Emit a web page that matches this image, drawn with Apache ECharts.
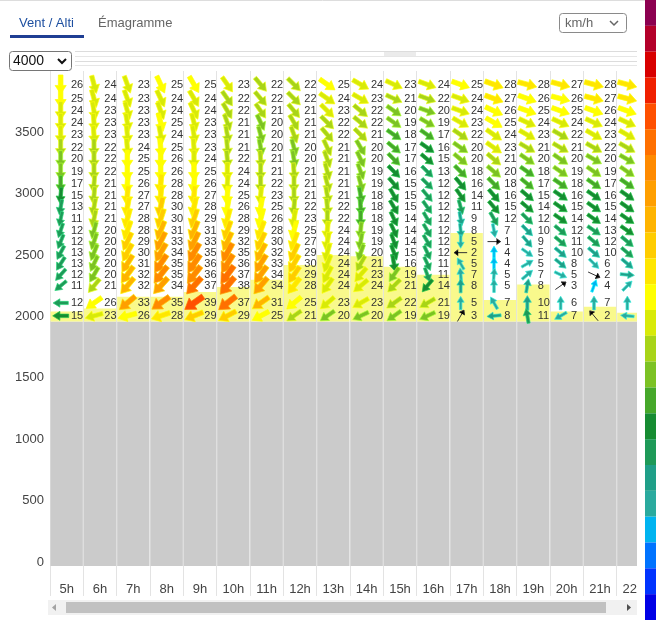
<!DOCTYPE html>
<html lang="fr">
<head>
<meta charset="UTF-8">
<title>Vent / Alti</title>
<script src="https://cdn.jsdelivr.net/npm/echarts@6/dist/echarts.min.js"></script>
<style>
  html, body { margin: 0; padding: 0; background: #fff; }
  #chart { width: 656px; height: 620px; }
</style>
</head>
<body>
<div id="chart"></div>
<script>
// heures (axe x)
var hours = ['5h', '6h', '7h', '8h', '9h', '10h', '11h', '12h', '13h', '14h', '15h', '16h', '17h', '18h', '19h', '20h', '21h', '22h'];
// altitude de chaque ligne de fleches (m)
var levels = [3890, 3775, 3675, 3580, 3480, 3375, 3280, 3180, 3080, 2985, 2890, 2795, 2700, 2610, 2520, 2430, 2340, 2250, 2110, 2005];
// relief (m) et sommet de la couche jaune (m)
var ground = 1960;
var layerTop = [2040, 2065, 2160, 2160, 2200, 2240, 2300, 2420, 2500, 2490, 2405, 2340, 2680, 2135, 2260, 2040, 2080, 2030];
var yTicks = [0, 500, 1000, 1500, 2000, 2500, 3000, 3500];

// vitesse (km/h), du haut vers le bas
var v05 = [26,25,24,24,23,22,20,19,17,15,13,11,12,12,13,13,12,11,12,15];
var v06 = [24,24,23,23,23,22,22,22,21,21,21,21,20,20,20,20,20,21,26,23];
var v07 = [23,23,23,23,23,24,25,25,26,27,27,28,28,29,30,31,32,32,33,26];
var v08 = [25,24,24,25,24,25,26,26,28,28,30,30,31,33,34,35,35,34,35,28];
var v09 = [25,24,24,23,23,23,24,25,26,27,28,29,31,33,35,36,36,37,39,29];
var v10 = [23,22,22,21,21,21,22,24,24,25,26,28,29,32,35,36,37,38,37,29];
var v11 = [22,22,21,20,20,20,21,21,22,23,25,26,28,30,32,33,34,34,31,25];
var v12 = [22,22,21,21,21,20,20,21,21,21,22,23,25,27,29,30,29,28,25,21];
var v13 = [25,24,23,22,22,21,21,21,21,21,22,22,24,24,24,24,24,24,23,20];
var v14 = [24,23,22,22,21,20,20,19,19,18,18,18,19,19,20,21,23,24,23,20];
var v15 = [23,21,20,19,18,17,17,16,15,15,15,14,14,14,15,16,19,21,22,19];
var v16 = [24,22,20,19,17,16,15,13,12,12,12,12,12,12,12,11,11,14,21,19];
var v17 = [25,24,24,23,22,20,20,18,16,14,11,9,8,5,2,5,7,8,5,3];
var v18 = [28,27,26,25,24,23,21,20,18,16,15,12,7,1,4,4,5,5,7,8];
var v19 = [28,26,25,24,23,21,20,18,17,15,14,12,10,9,5,5,7,8,10,11];
var v20 = [27,26,25,24,22,21,20,19,18,16,15,14,12,11,10,8,5,3,6,7];
var v21 = [28,27,26,24,23,22,20,19,17,16,15,14,13,12,10,6,2,4,7,2];
var v22 = [28,27,26,24,23,22,20,19,18,16,16,15,14,13,12,10,8,5,7,6];

// direction d'ou vient le vent (degres)
var d05 = [0,0,0,0,0,0,0,0,0,5,10,12,18,22,28,33,42,50,90,90];
var d06 = [345,345,350,355,355,0,0,0,5,5,10,12,15,18,22,25,30,40,55,75];
var d07 = [340,340,345,350,355,355,0,0,5,5,10,15,20,25,28,32,36,40,50,75];
var d08 = [335,335,340,345,350,355,0,0,5,5,12,18,22,26,30,34,38,42,55,72];
var d09 = [330,330,335,345,350,355,0,0,5,5,12,18,22,26,30,34,38,42,55,68];
var d10 = [325,325,330,340,350,355,355,0,5,5,10,15,20,25,28,32,36,40,52,62];
var d11 = [320,320,325,335,345,350,355,0,0,5,10,15,20,25,28,32,36,40,55,62];
var d12 = [315,315,320,330,340,345,350,355,0,0,5,10,15,20,25,30,34,38,50,55];
var d13 = [305,305,315,315,320,335,340,345,345,350,355,0,5,10,15,22,28,35,50,55];
var d14 = [300,300,310,310,315,330,335,340,345,350,355,0,5,10,20,30,40,50,60,65];
var d15 = [295,295,305,305,305,310,315,315,320,330,330,335,335,340,340,350,35,45,55,55];
var d16 = [290,290,290,300,305,305,310,315,315,320,325,330,330,330,335,335,340,40,60,65];
var d17 = [290,290,290,300,305,305,310,315,320,325,345,350,355,0,90,150,175,180,180,210];
var d18 = [290,290,295,300,305,305,310,310,315,320,320,330,350,270,180,180,185,180,150,85];
var d19 = [285,290,290,295,300,300,305,305,310,310,310,315,315,320,305,240,230,190,180,170];
var d20 = [285,285,290,295,300,300,305,305,305,305,305,305,310,310,310,310,295,235,180,60];
var d21 = [285,285,290,295,300,300,300,305,305,305,305,305,305,310,310,315,295,200,180,140];
var d22 = [285,285,290,295,300,300,300,305,305,305,305,305,305,310,310,310,275,225,180,95];

// echelle de couleur (km/h)
var speedBreaks = [0, 1, 2, 3, 5, 8, 11, 14, 17, 19, 21, 23, 25, 27, 29, 31, 33, 35, 37, 39, 42, 46, 50, 60, 200];
var speedColors = ['#0000e6', '#0033ff', '#0073ff', '#00b4f0', '#2aaa9e', '#1f9f88', '#1e9a58', '#168c32',
    '#46a82a', '#7cc224', '#a8d418', '#d8ea08', '#ffff00', '#ffe600', '#ffcc00', '#ffb400',
    '#ff9f00', '#ff8a00', '#ff7000', '#ff5000', '#f02000', '#d80000', '#b4002a', '#8c0050'];

var speedCols = [v05, v06, v07, v08, v09, v10, v11, v12, v13, v14, v15, v16, v17, v18, v19, v20, v21, v22];
var dirCols = [d05, d06, d07, d08, d09, d10, d11, d12, d13, d14, d15, d16, d17, d18, d19, d20, d21, d22];

var font = '"Liberation Sans", Arial, sans-serif';

var windData = [];
speedCols.forEach(function (col, i) {
    col.forEach(function (v, j) {
        windData.push([i, levels[j], v, dirCols[i][j]]);
    });
});

var pieces = speedColors.map(function (c, k) {
    return { gte: speedBreaks[k], lt: speedBreaks[k + 1], color: c };
});

var chart = echarts.init(document.getElementById('chart'));

function renderGround(params, api) {
    var p = api.coord([api.value(0), api.value(1)]);
    var cw = api.size([1, 0])[0];
    var bottom = params.coordSys.y + params.coordSys.height;
    return {
        type: 'rect',
        shape: { x: p[0] - cw / 2 + 0.5, y: p[1], width: cw - 1, height: bottom - p[1] },
        style: { fill: '#cbcbcb' }
    };
}

function renderLayer(params, api) {
    var top = api.coord([api.value(0), api.value(1)]);
    var base = api.coord([api.value(0), ground]);
    var cw = api.size([1, 0])[0];
    return {
        type: 'rect',
        shape: { x: top[0] - cw / 2 + 0.5, y: top[1], width: cw - 1, height: base[1] - top[1] },
        style: { fill: '#f9f98c' }
    };
}

function renderWind(params, api) {
    var p = api.coord([api.value(0), api.value(1)]);
    var spd = api.value(2);
    var from = api.value(3);
    var cw = api.size([1, 0])[0];
    var ax = p[0] - cw * 0.18, ay = p[1];
    var h = (from + 180) * Math.PI / 180;
    var ux = Math.sin(h), uy = -Math.cos(h), nx = Math.cos(h), ny = Math.sin(h);
    function pt(a, b) { return [ax + ux * a + nx * b, ay + uy * a + ny * b]; }
    var children = [];
    if (spd <= 3) {
        var l = 13;
        children.push({ type: 'polyline', shape: { points: [pt(-l / 2, 0), pt(l / 2, 0)] },
            style: { stroke: '#333', lineWidth: 1 } });
        children.push({ type: 'polyline', shape: { points: [pt(l / 2 - 4, -3), pt(l / 2, 0), pt(l / 2 - 4, 3)] },
            style: { stroke: '#333', lineWidth: 1 } });
    } else {
        var L = 12 + spd * 0.27, hl = L * 0.45, hw = 3 + spd * 0.1, sw = 1 + spd * 0.05;
        var c = api.visual('color');
        children.push({
            type: 'polygon',
            shape: { points: [pt(-L / 2, -sw), pt(L / 2 - hl, -sw), pt(L / 2 - hl, -hw), pt(L / 2, 0),
                pt(L / 2 - hl, hw), pt(L / 2 - hl, sw), pt(-L / 2, sw)] },
            style: { fill: c, stroke: echarts.color.lift(c, -0.4), lineWidth: 0.7 }
        });
    }
    children.push({
        type: 'text', x: p[0] + cw * 0.13, y: ay,
        style: { text: String(spd), fill: '#333', fontSize: 11, fontFamily: font, verticalAlign: 'middle', align: 'left' }
    });
    return { type: 'group', children: children };
}

var option = {
    animation: false,
    textStyle: { fontFamily: font },
    grid: { left: 50, right: 6, top: 71, bottom: 54, containLabel: false, outerBoundsMode: 'none' },
    xAxis: {
        type: 'category',
        data: hours,
        boundaryGap: true,
        axisLine: { show: false },
        axisTick: { show: true, length: 34, lineStyle: { color: '#e3e3e3' } },
        axisLabel: { margin: 17, fontSize: 13, color: '#444', fontFamily: font },
        splitLine: { show: true, lineStyle: { color: '#e3e3e3' } }
    },
    yAxis: {
        type: 'value',
        min: -33,
        max: 4000,
        minInterval: 500,
        maxInterval: 500,
        axisLine: { show: false },
        axisTick: { show: false },
        splitLine: { show: false },
        axisLabel: {
            margin: 6, fontSize: 13, color: '#444', fontFamily: font,
            showMinLabel: false, showMaxLabel: false,
            formatter: function (v) { return yTicks.indexOf(v) >= 0 ? String(v) : ''; }
        }
    },
    visualMap: {
        type: 'piecewise',
        seriesIndex: 2,
        dimension: 2,
        pieces: pieces,
        orient: 'vertical',
        right: 0,
        top: 0,
        padding: 0,
        itemWidth: 11,
        itemHeight: 620 / pieces.length,
        itemGap: 0,
        itemSymbol: 'rect',
        showLabel: false,
        selectedMode: false,
        hoverLink: false,
        z: 200
    },
    graphic: [
        { type: 'line', shape: { x1: 0, y1: 0.5, x2: 645, y2: 0.5 }, style: { stroke: '#dddddd' } },
        { type: 'text', x: 19, y: 23, style: { text: 'Vent / Alti', fontSize: 13, fontFamily: font, fill: '#1d4fa0', verticalAlign: 'middle' } },
        { type: 'rect', shape: { x: 10, y: 35, width: 74, height: 3 }, style: { fill: '#1f3e93' } },
        { type: 'text', x: 98, y: 23, style: { text: 'Émagramme', fontSize: 13, fontFamily: font, fill: '#666', verticalAlign: 'middle' } },
        { type: 'rect', shape: { x: 559.5, y: 13.5, width: 67, height: 19, r: 3 }, style: { fill: '#fff', stroke: '#8a8a8a' } },
        { type: 'text', x: 565, y: 23, style: { text: 'km/h', fontSize: 13, fontFamily: font, fill: '#666', verticalAlign: 'middle' } },
        { type: 'polyline', shape: { points: [[610, 21], [614, 25], [618, 21]] }, style: { stroke: '#666', lineWidth: 1.5 } },
        { type: 'line', shape: { x1: 75, y1: 51.5, x2: 637, y2: 51.5 }, style: { stroke: '#dcdcdc' } },
        { type: 'line', shape: { x1: 75, y1: 56.5, x2: 637, y2: 56.5 }, style: { stroke: '#e6e6e6' } },
        { type: 'line', shape: { x1: 75, y1: 61.5, x2: 637, y2: 61.5 }, style: { stroke: '#dcdcdc' } },
        { type: 'line', shape: { x1: 75, y1: 65.5, x2: 637, y2: 65.5 }, style: { stroke: '#e6e6e6' } },
        { type: 'rect', shape: { x: 384, y: 52, width: 32, height: 4 }, style: { fill: '#ebebeb' } },
        { type: 'rect', shape: { x: 9.5, y: 51.5, width: 62, height: 19, r: 3 }, style: { fill: '#fff', stroke: '#767676' } },
        { type: 'text', x: 13, y: 61, style: { text: '4000', fontSize: 14, fontFamily: font, fill: '#111', verticalAlign: 'middle' } },
        { type: 'polyline', shape: { points: [[58, 59], [62, 63], [66, 59]] }, style: { stroke: '#111', lineWidth: 2 } },
        // cache a droite de la zone visible
        { type: 'rect', z: 100, shape: { x: 637, y: 68, width: 19, height: 552 }, style: { fill: '#fff' } },
        // barre de defilement
        { type: 'rect', z: 100, shape: { x: 48, y: 600, width: 589, height: 15 }, style: { fill: '#f1f1f1' } },
        { type: 'rect', z: 101, shape: { x: 66, y: 602, width: 540, height: 11 }, style: { fill: '#c1c1c1' } },
        { type: 'polygon', z: 101, shape: { points: [[56, 604], [52, 607.5], [56, 611]] }, style: { fill: '#a3a3a3' } },
        { type: 'polygon', z: 101, shape: { points: [[627, 604], [631, 607.5], [627, 611]] }, style: { fill: '#505050' } }
    ],
    series: [
        {
            type: 'custom',
            name: 'relief',
            silent: true,
            renderItem: renderGround,
            data: hours.map(function (h, i) { return [i, ground]; })
        },
        {
            type: 'custom',
            name: 'couche',
            silent: true,
            renderItem: renderLayer,
            data: layerTop.map(function (t, i) { return [i, t]; })
        },
        {
            type: 'custom',
            name: 'vent',
            silent: true,
            renderItem: renderWind,
            encode: { x: 0, y: 1 },
            data: windData
        }
    ]
};

chart.setOption(option);
</script>
</body>
</html>
